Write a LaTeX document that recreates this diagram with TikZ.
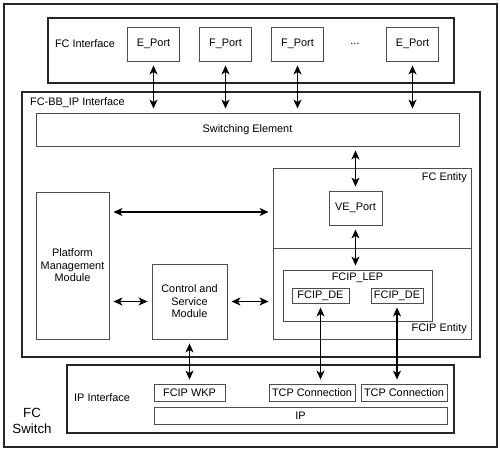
\documentclass[tikz,border=0pt]{standalone}
\usepackage{fontspec}
\setmainfont{Liberation Sans}
\usetikzlibrary{arrows.meta}
\begin{document}
\begin{tikzpicture}[x=1pt,y=-1pt,
  every node/.style={font=\fontsize{10.9}{12.5}\selectfont},
  bigbox/.style={draw=black!85,line width=1.7pt,inner sep=0pt,minimum width=#1},
  thinbox/.style={draw=black!70,line width=0.9pt,inner sep=0pt,align=center},
  lbl/.style={inner sep=0pt},
  dbl/.style={{Stealth[length=9pt,width=8pt,inset=2.5pt]}-{Stealth[length=9pt,width=8pt,inset=2.5pt]},line width=1.2pt,shorten <=4pt,shorten >=4pt}
]
\useasboundingbox (0,0) rectangle (500,451);
% outer switch
\node[draw=black!85,line width=1.7pt,minimum width=493pt,minimum height=443pt,inner sep=0pt] (sw) at (250.5,225.5) {};
\node[lbl,align=center,font=\fontsize{13.3}{16}\selectfont] (fcs) at (32,421) {FC\\Switch};
% FC interface
\node[bigbox=406pt,minimum height=65pt] (fci) at (251,50.5) {};
\node[lbl] (fcil) at (85,44) {FC Interface};
\node[thinbox,minimum width=52pt,minimum height=34pt] (p1) at (153.5,44) {E\_Port};
\node[thinbox,minimum width=52pt,minimum height=34pt] (p2) at (225.5,44) {F\_Port};
\node[thinbox,minimum width=52pt,minimum height=34pt] (p3) at (297.5,44) {F\_Port};
\node[lbl] (dots) at (355,44) {...};
\node[thinbox,minimum width=52pt,minimum height=34pt] (p4) at (412.5,44) {E\_Port};
% FC-BB_IP interface
\node[bigbox=458pt,minimum height=265pt] (bb) at (251,224.5) {};
\node[lbl,anchor=west] (bbl) at (30,103) {FC-BB\_IP Interface};
\node[thinbox,minimum width=423pt,minimum height=33pt] (se) at (247.5,129.5) {Switching Element};
% FC entity / FCIP entity
\node[thinbox,minimum width=198pt,minimum height=80pt] (fce) at (372,208) {};
\node[thinbox,minimum width=198pt,minimum height=91pt] (fcipe) at (372,293.5) {};
\node[lbl,anchor=east] (fcel) at (467,178) {FC Entity};
\node[lbl,anchor=east] (fcipel) at (467,329) {FCIP Entity};
\node[thinbox,minimum width=53pt,minimum height=34pt] (ve) at (355.5,208) {VE\_Port};
\node[thinbox,minimum width=149pt,minimum height=51pt] (lep) at (357.5,295.5) {};
\node[lbl] (lepl) at (357.5,277.5) {FCIP\_LEP};
\node[thinbox,minimum width=57pt,minimum height=15pt] (de1) at (320.5,295.5) {FCIP\_DE};
\node[thinbox,minimum width=52pt,minimum height=15pt] (de2) at (397,295.5) {FCIP\_DE};
% platform and control
\node[thinbox,minimum width=73pt,minimum height=147pt] (pm) at (72.5,265.5) {Platform\\Management\\Module};
\node[thinbox,minimum width=75pt,minimum height=75pt] (cs) at (189.5,301.5) {Control and\\Service\\Module};
% IP interface
\node[bigbox=387pt,minimum height=68pt] (ipi) at (260.5,399) {};
\node[lbl,anchor=west] (ipil) at (74,398) {IP Interface};
\node[thinbox,minimum width=71pt,minimum height=17pt] (wkp) at (189.5,392.5) {FCIP WKP};
\node[thinbox,minimum width=86pt,minimum height=17pt] (tcp1) at (312,392.5) {TCP Connection};
\node[thinbox,minimum width=86pt,minimum height=17pt] (tcp2) at (404,392.5) {TCP Connection};
\node[thinbox,minimum width=293pt,minimum height=17pt] (ip) at (300.5,415.5) {IP};
% arrows
\foreach \p in {p1,p2,p3,p4} \draw[dbl] (\p.south) -- (\p.south |- se.north);
\draw[dbl] (se.south -| ve.north) -- (ve.north);
\draw[dbl] (ve.south) -- (ve.south |- lep.north);
\draw[dbl] (pm.east |- 0,212) -- (fce.west |- 0,212);
\draw[dbl] (pm.east |- cs.west) -- (cs.west);
\draw[dbl] (cs.east) -- (fcipe.west |- cs.east);
\draw[dbl] (cs.south) -- (cs.south |- wkp.north);
\draw[dbl] (de1.south) -- (de1.south |- tcp1.north);
\draw[dbl] (de2.south) -- (de2.south |- tcp2.north);
\end{tikzpicture}
\end{document}
